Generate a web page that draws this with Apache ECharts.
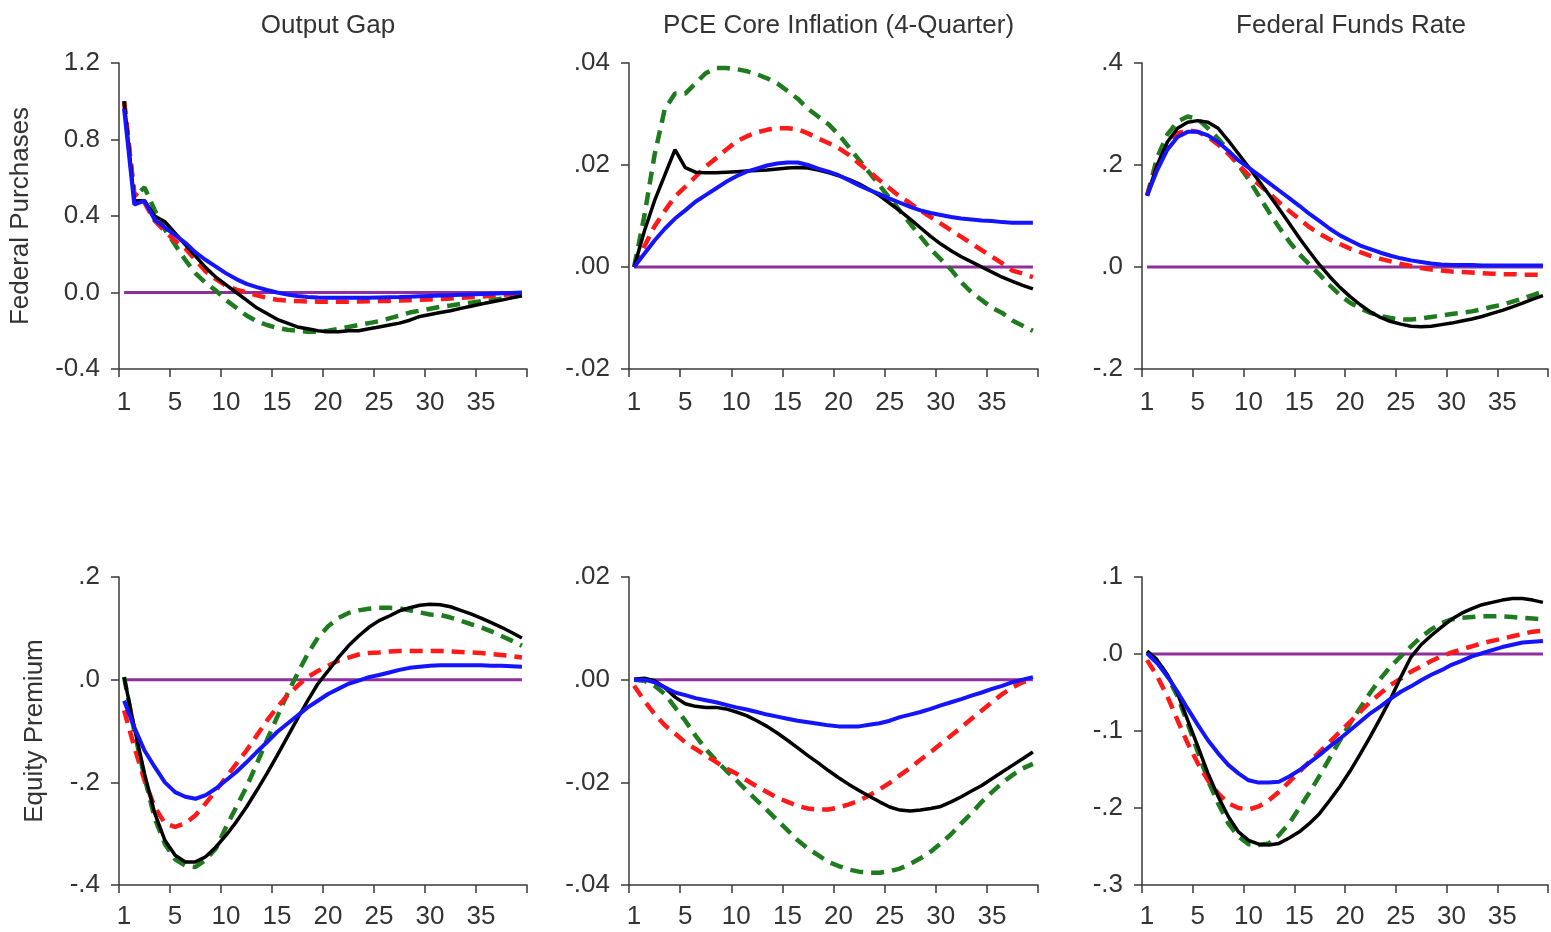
<!DOCTYPE html>
<html>
<head>
<meta charset="utf-8">
<title>Impulse responses</title>
<script src="https://cdn.jsdelivr.net/npm/echarts@6/dist/echarts.min.js"></script>
<style>
  html, body { margin: 0; padding: 0; background: #fff; }
  #chart { width: 1551px; height: 932px; }
</style>
</head>
<body>
<div id="chart"></div>
<script>
// quarters after the shock
var quarters = Array.from({length: 40}, function (_, i) { return i + 1; });

var colTitles = ['Output Gap', 'PCE Core Inflation (4-Quarter)', 'Federal Funds Rate'];
var rowTitles = ['Federal Purchases', 'Equity Premium'];

// Federal Purchases shock
var gapBlack = [1.0, 0.48, 0.48, 0.40, 0.37, 0.31, 0.25, 0.19, 0.13, 0.08, 0.04, 0.0, -0.04, -0.08, -0.11, -0.14, -0.16, -0.18, -0.19, -0.20, -0.205, -0.205, -0.20, -0.20, -0.19, -0.18, -0.17, -0.16, -0.145, -0.125, -0.115, -0.105, -0.095, -0.083, -0.072, -0.06, -0.05, -0.04, -0.028, -0.017];
var gapGreen = [1.0, 0.5, 0.55, 0.43, 0.33, 0.25, 0.17, 0.1, 0.05, 0.01, -0.04, -0.08, -0.12, -0.15, -0.17, -0.185, -0.195, -0.2, -0.205, -0.205, -0.2, -0.19, -0.18, -0.17, -0.16, -0.15, -0.135, -0.12, -0.105, -0.095, -0.085, -0.075, -0.068, -0.06, -0.053, -0.046, -0.04, -0.032, -0.024, -0.015];
var gapRed = [1.0, 0.52, 0.47, 0.375, 0.32, 0.27, 0.23, 0.17, 0.11, 0.07, 0.035, 0.015, 0.0, -0.015, -0.028, -0.038, -0.043, -0.045, -0.047, -0.048, -0.048, -0.048, -0.048, -0.047, -0.046, -0.045, -0.044, -0.042, -0.04, -0.038, -0.036, -0.034, -0.031, -0.028, -0.025, -0.021, -0.017, -0.013, -0.009, -0.005];
var gapBlue = [0.96, 0.46, 0.48, 0.38, 0.34, 0.3, 0.26, 0.21, 0.17, 0.135, 0.1, 0.07, 0.045, 0.028, 0.013, 0.0, -0.01, -0.018, -0.023, -0.026, -0.027, -0.028, -0.028, -0.028, -0.027, -0.026, -0.025, -0.024, -0.022, -0.02, -0.018, -0.016, -0.014, -0.012, -0.01, -0.008, -0.006, -0.004, -0.002, 0.0];

var pceBlack = [0, 0.007, 0.013, 0.018, 0.023, 0.0195, 0.0186, 0.0185, 0.0185, 0.0186, 0.0187, 0.0188, 0.0189, 0.019, 0.0192, 0.0194, 0.0195, 0.0194, 0.019, 0.0185, 0.0179, 0.0172, 0.0163, 0.0152, 0.014, 0.0125, 0.011, 0.0094, 0.0077, 0.006, 0.0045, 0.0032, 0.002, 0.001, 0.0, -0.001, -0.002, -0.0028, -0.0036, -0.0043];
var pceGreen = [0, 0.01, 0.022, 0.031, 0.034, 0.034, 0.036, 0.038, 0.039, 0.039, 0.0388, 0.0384, 0.0378, 0.037, 0.036, 0.0345, 0.033, 0.031, 0.0295, 0.028, 0.026, 0.0235, 0.021, 0.0185, 0.016, 0.0135, 0.011, 0.0085, 0.006, 0.0035, 0.0015, -0.0005, -0.003, -0.005, -0.0065, -0.008, -0.009, -0.0105, -0.0115, -0.0125];
var pceRed = [0, 0.004, 0.008, 0.011, 0.0138, 0.0157, 0.0177, 0.0197, 0.0213, 0.023, 0.0246, 0.0256, 0.0264, 0.0269, 0.0272, 0.0272, 0.027, 0.0262, 0.0252, 0.0243, 0.0233, 0.022, 0.0203, 0.0187, 0.017, 0.0154, 0.0138, 0.0125, 0.0111, 0.0098, 0.0085, 0.0072, 0.0059, 0.0046, 0.0033, 0.002, 0.0007, -0.0007, -0.0013, -0.002];
var pceBlue = [0, 0.0026, 0.0052, 0.0075, 0.0095, 0.0111, 0.0128, 0.0141, 0.0154, 0.0167, 0.0178, 0.0187, 0.0193, 0.0199, 0.0203, 0.0205, 0.0205, 0.02, 0.0193, 0.0187, 0.018, 0.017, 0.016, 0.0151, 0.0143, 0.0134, 0.0126, 0.0118, 0.0111, 0.0106, 0.0102, 0.0098, 0.0095, 0.0093, 0.0091, 0.009, 0.0088, 0.0087, 0.0087, 0.0087];

var ffrBlack = [0.14, 0.2, 0.245, 0.272, 0.284, 0.287, 0.284, 0.272, 0.248, 0.222, 0.196, 0.169, 0.142, 0.114, 0.086, 0.057, 0.03, 0.004, -0.019, -0.04, -0.058, -0.074, -0.088, -0.099, -0.107, -0.112, -0.116, -0.117, -0.116, -0.113, -0.11, -0.106, -0.102, -0.097, -0.091, -0.085, -0.078, -0.071, -0.063, -0.056];
var ffrGreen = [0.14, 0.215, 0.26, 0.285, 0.295, 0.29, 0.272, 0.252, 0.228, 0.2, 0.172, 0.14, 0.108, 0.078, 0.05, 0.025, 0.005, -0.015, -0.036, -0.055, -0.07, -0.081, -0.09, -0.096, -0.1, -0.103, -0.103, -0.101, -0.098, -0.095, -0.092, -0.09, -0.087, -0.083, -0.078, -0.074, -0.068, -0.062, -0.055, -0.048];
var ffrRed = [0.14, 0.2, 0.24, 0.262, 0.268, 0.265, 0.255, 0.24, 0.222, 0.2, 0.18, 0.162, 0.145, 0.127, 0.11, 0.094, 0.078, 0.065, 0.054, 0.045, 0.036, 0.029, 0.022, 0.016, 0.011, 0.006, 0.002, -0.002, -0.005, -0.007, -0.009, -0.01, -0.011, -0.012, -0.013, -0.014, -0.014, -0.015, -0.015, -0.015];
var ffrBlue = [0.14, 0.19, 0.23, 0.255, 0.265, 0.265, 0.258, 0.245, 0.228, 0.209, 0.195, 0.18, 0.165, 0.15, 0.135, 0.12, 0.104, 0.09, 0.075, 0.062, 0.052, 0.042, 0.035, 0.028, 0.022, 0.017, 0.013, 0.01, 0.007, 0.005, 0.004, 0.004, 0.004, 0.003, 0.003, 0.003, 0.003, 0.003, 0.003, 0.003];

// Equity Premium shock
var eqGapBlack = [0.005, -0.093, -0.183, -0.26, -0.313, -0.342, -0.355, -0.355, -0.345, -0.326, -0.303, -0.277, -0.248, -0.216, -0.183, -0.148, -0.112, -0.076, -0.041, -0.008, 0.017, 0.043, 0.066, 0.085, 0.102, 0.115, 0.124, 0.134, 0.14, 0.145, 0.147, 0.146, 0.142, 0.135, 0.128, 0.12, 0.111, 0.102, 0.092, 0.081];
var eqGapGreen = [0.005, -0.1, -0.19, -0.27, -0.32, -0.35, -0.362, -0.365, -0.351, -0.329, -0.287, -0.248, -0.209, -0.164, -0.118, -0.073, -0.028, 0.012, 0.05, 0.082, 0.104, 0.12, 0.13, 0.135, 0.138, 0.14, 0.14, 0.139, 0.135, 0.131, 0.127, 0.126, 0.121, 0.115, 0.108, 0.102, 0.094, 0.085, 0.076, 0.066];
var eqGapRed = [-0.06, -0.131, -0.196, -0.248, -0.28, -0.287, -0.28, -0.264, -0.241, -0.216, -0.19, -0.164, -0.138, -0.109, -0.08, -0.054, -0.031, -0.012, 0.005, 0.017, 0.027, 0.037, 0.043, 0.049, 0.052, 0.053, 0.055, 0.056, 0.056, 0.056, 0.056, 0.056, 0.055, 0.054, 0.053, 0.052, 0.05, 0.048, 0.046, 0.043];
var eqGapBlue = [-0.041, -0.093, -0.138, -0.17, -0.2, -0.219, -0.228, -0.232, -0.225, -0.212, -0.196, -0.18, -0.161, -0.141, -0.122, -0.102, -0.086, -0.07, -0.054, -0.041, -0.028, -0.018, -0.008, -0.002, 0.005, 0.009, 0.014, 0.019, 0.023, 0.025, 0.027, 0.028, 0.028, 0.028, 0.028, 0.028, 0.027, 0.027, 0.026, 0.025];

var eqPceBlack = [0.0001, 0.0003, -0.0002, -0.0015, -0.0034, -0.0047, -0.0052, -0.0054, -0.0054, -0.0057, -0.0063, -0.007, -0.008, -0.0091, -0.0104, -0.0118, -0.0133, -0.0148, -0.0162, -0.0177, -0.0191, -0.0204, -0.0216, -0.0227, -0.0238, -0.0248, -0.0254, -0.0256, -0.0254, -0.0251, -0.0247, -0.0238, -0.0228, -0.0217, -0.0206, -0.0193, -0.018, -0.0167, -0.0154, -0.0141];
var eqPceGreen = [0, -0.0002, -0.0012, -0.0028, -0.0054, -0.008, -0.0109, -0.0135, -0.0157, -0.0177, -0.0196, -0.0216, -0.0235, -0.0254, -0.0274, -0.0293, -0.0313, -0.0329, -0.0342, -0.0355, -0.0363, -0.037, -0.0374, -0.0376, -0.0376, -0.0373, -0.0368, -0.0359, -0.0348, -0.0335, -0.0319, -0.0301, -0.028, -0.026, -0.0238, -0.0219, -0.0201, -0.0186, -0.0173, -0.0164];
var eqPceRed = [-0.0012, -0.0041, -0.0067, -0.0089, -0.0105, -0.0122, -0.0135, -0.0148, -0.016, -0.0173, -0.0183, -0.0196, -0.0208, -0.0219, -0.023, -0.0238, -0.0246, -0.0251, -0.0253, -0.0253, -0.0249, -0.0243, -0.0236, -0.0225, -0.0214, -0.0201, -0.0186, -0.0172, -0.0156, -0.0141, -0.0125, -0.0109, -0.0093, -0.0076, -0.006, -0.0044, -0.0028, -0.0015, -0.0005, 0.0001];
var eqPceBlue = [0, 0, -0.0005, -0.0015, -0.0025, -0.003, -0.0036, -0.004, -0.0044, -0.0049, -0.0054, -0.0058, -0.0063, -0.0068, -0.0072, -0.0076, -0.008, -0.0083, -0.0086, -0.0089, -0.0091, -0.0091, -0.0091, -0.0088, -0.0085, -0.008, -0.0073, -0.0068, -0.0063, -0.0057, -0.005, -0.0044, -0.0038, -0.0031, -0.0025, -0.0018, -0.0012, -0.0005, 0, 0.0005];

var eqFfrBlack = [0.004, -0.008, -0.027, -0.051, -0.086, -0.12, -0.155, -0.185, -0.211, -0.231, -0.242, -0.247, -0.248, -0.246, -0.239, -0.231, -0.22, -0.207, -0.19, -0.172, -0.152, -0.13, -0.107, -0.083, -0.058, -0.03, -0.004, 0.012, 0.024, 0.035, 0.045, 0.053, 0.059, 0.064, 0.067, 0.07, 0.072, 0.072, 0.07, 0.067];
var eqFfrGreen = [0.003, -0.008, -0.029, -0.055, -0.09, -0.127, -0.164, -0.194, -0.22, -0.237, -0.247, -0.248, -0.246, -0.235, -0.22, -0.2, -0.18, -0.158, -0.135, -0.112, -0.09, -0.07, -0.05, -0.032, -0.016, -0.003, 0.01, 0.022, 0.032, 0.04, 0.045, 0.047, 0.048, 0.049, 0.049, 0.049, 0.048, 0.047, 0.046, 0.045];
var eqFfrRed = [-0.008, -0.029, -0.055, -0.086, -0.116, -0.142, -0.164, -0.181, -0.194, -0.2, -0.202, -0.198, -0.19, -0.179, -0.166, -0.153, -0.14, -0.127, -0.114, -0.101, -0.088, -0.075, -0.062, -0.051, -0.04, -0.032, -0.023, -0.016, -0.009, -0.003, 0.002, 0.006, 0.01, 0.014, 0.017, 0.02, 0.023, 0.026, 0.029, 0.03];
var eqFfrBlue = [0.001, -0.012, -0.029, -0.049, -0.071, -0.092, -0.112, -0.129, -0.144, -0.155, -0.164, -0.167, -0.167, -0.166, -0.159, -0.151, -0.141, -0.131, -0.12, -0.11, -0.099, -0.088, -0.077, -0.068, -0.058, -0.049, -0.042, -0.034, -0.027, -0.021, -0.014, -0.009, -0.003, 0.001, 0.005, 0.009, 0.012, 0.015, 0.016, 0.017];

var zeroLine = quarters.map(function () { return 0; });

// y axis ranges per panel: [min, max, interval, decimals, leadingZero]
var yScales = [
    [-0.4, 1.2, 0.4, 1, true],
    [-0.02, 0.04, 0.02, 2, false],
    [-0.2, 0.4, 0.2, 1, false],
    [-0.4, 0.2, 0.2, 1, false],
    [-0.04, 0.02, 0.02, 2, false],
    [-0.3, 0.1, 0.1, 1, false]
];

var panels = [
    [gapBlack, gapGreen, gapRed, gapBlue],
    [pceBlack, pceGreen, pceRed, pceBlue],
    [ffrBlack, ffrGreen, ffrRed, ffrBlue],
    [eqGapBlack, eqGapGreen, eqGapRed, eqGapBlue],
    [eqPceBlack, eqPceGreen, eqPceRed, eqPceBlue],
    [eqFfrBlack, eqFfrGreen, eqFfrRed, eqFfrBlue]
];

var gridBoxes = [
    {left: 119, top: 63, width: 408, height: 306},
    {left: 629, top: 63, width: 409, height: 306},
    {left: 1142, top: 63, width: 408, height: 306},
    {left: 119, top: 577, width: 408, height: 308},
    {left: 629, top: 577, width: 409, height: 308},
    {left: 1142, top: 577, width: 408, height: 308}
];

var font = '"Liberation Sans", Arial, sans-serif';
var textColor = '#333';
var axisColor = '#3a3a3a';

function fmtTick(v, dec, lead) {
    var s = Math.abs(v).toFixed(dec);
    if (!lead) s = s.replace(/^0/, '');
    return (v < -1e-9 ? '-' : '') + s;
}

// quarter q is drawn in the middle of its period
function toPoints(vals) {
    return vals.map(function (v, i) { return [quarters[i] - 0.5, v]; });
}

var grid = [], xAxis = [], yAxis = [], series = [], title = [];

gridBoxes.forEach(function (g, p) {
    grid.push(g);
    var sc = yScales[p];
    xAxis.push({
        type: 'value', gridIndex: p, min: 0, max: 40, interval: 5,
        axisLine: {show: true, onZero: false, lineStyle: {color: axisColor, width: 1.5}},
        axisTick: {show: true, length: 8, lineStyle: {color: axisColor, width: 1.5}},
        splitLine: {show: false},
        axisLabel: {
            margin: p < 3 ? 21 : 19, fontSize: 26, color: textColor, fontFamily: font,
            padding: [0, 0, 0, 10],
            formatter: function (v) { return v === 0 ? '1' : (v >= 40 ? '' : String(v)); }
        }
    });
    yAxis.push({
        type: 'value', gridIndex: p, min: sc[0], max: sc[1], interval: sc[2],
        name: p === 0 ? rowTitles[0] : (p === 3 ? rowTitles[1] : ''),
        nameLocation: 'middle',
        nameGap: p === 0 ? 85 : 71,
        nameTextStyle: {fontSize: 26, color: textColor, fontFamily: font},
        axisLine: {show: true, lineStyle: {color: axisColor, width: 1.5}},
        axisTick: {show: true, length: 8, lineStyle: {color: axisColor, width: 1.5}},
        splitLine: {show: false},
        axisLabel: {
            margin: 19, fontSize: 26, color: textColor, fontFamily: font,
            formatter: function (v) { return fmtTick(v, sc[3], sc[4]); }
        }
    });

    var d = panels[p];
    series.push({
        type: 'line', xAxisIndex: p, yAxisIndex: p, data: toPoints(zeroLine),
        symbol: 'none', silent: true, lineStyle: {color: '#8e2f9c', width: 3}
    });
    series.push({
        type: 'line', xAxisIndex: p, yAxisIndex: p, data: toPoints(d[1]),
        symbol: 'none', lineStyle: {color: '#1e7b1e', width: 4.5, type: [13, 8]}
    });
    series.push({
        type: 'line', xAxisIndex: p, yAxisIndex: p, data: toPoints(d[2]),
        symbol: 'none', lineStyle: {color: '#ff1a1a', width: 4.5, type: [13, 8]}
    });
    series.push({
        type: 'line', xAxisIndex: p, yAxisIndex: p, data: toPoints(d[0]),
        symbol: 'none', lineStyle: {color: '#000000', width: 3.5}
    });
    series.push({
        type: 'line', xAxisIndex: p, yAxisIndex: p, data: toPoints(d[3]),
        symbol: 'none', lineStyle: {color: '#1414ff', width: 4}
    });

    if (p < 3) {
        title.push({
            text: colTitles[p],
            left: g.left + g.width / 2, top: 8,
            textAlign: 'center',
            textStyle: {fontSize: 26, fontWeight: 'normal', color: textColor, fontFamily: font}
        });
    }
});

var chart = echarts.init(document.getElementById('chart'), null, {renderer: 'canvas'});
chart.setOption({
    animation: false,
    backgroundColor: '#ffffff',
    title: title,
    grid: grid,
    xAxis: xAxis,
    yAxis: yAxis,
    series: series
});
</script>
</body>
</html>
